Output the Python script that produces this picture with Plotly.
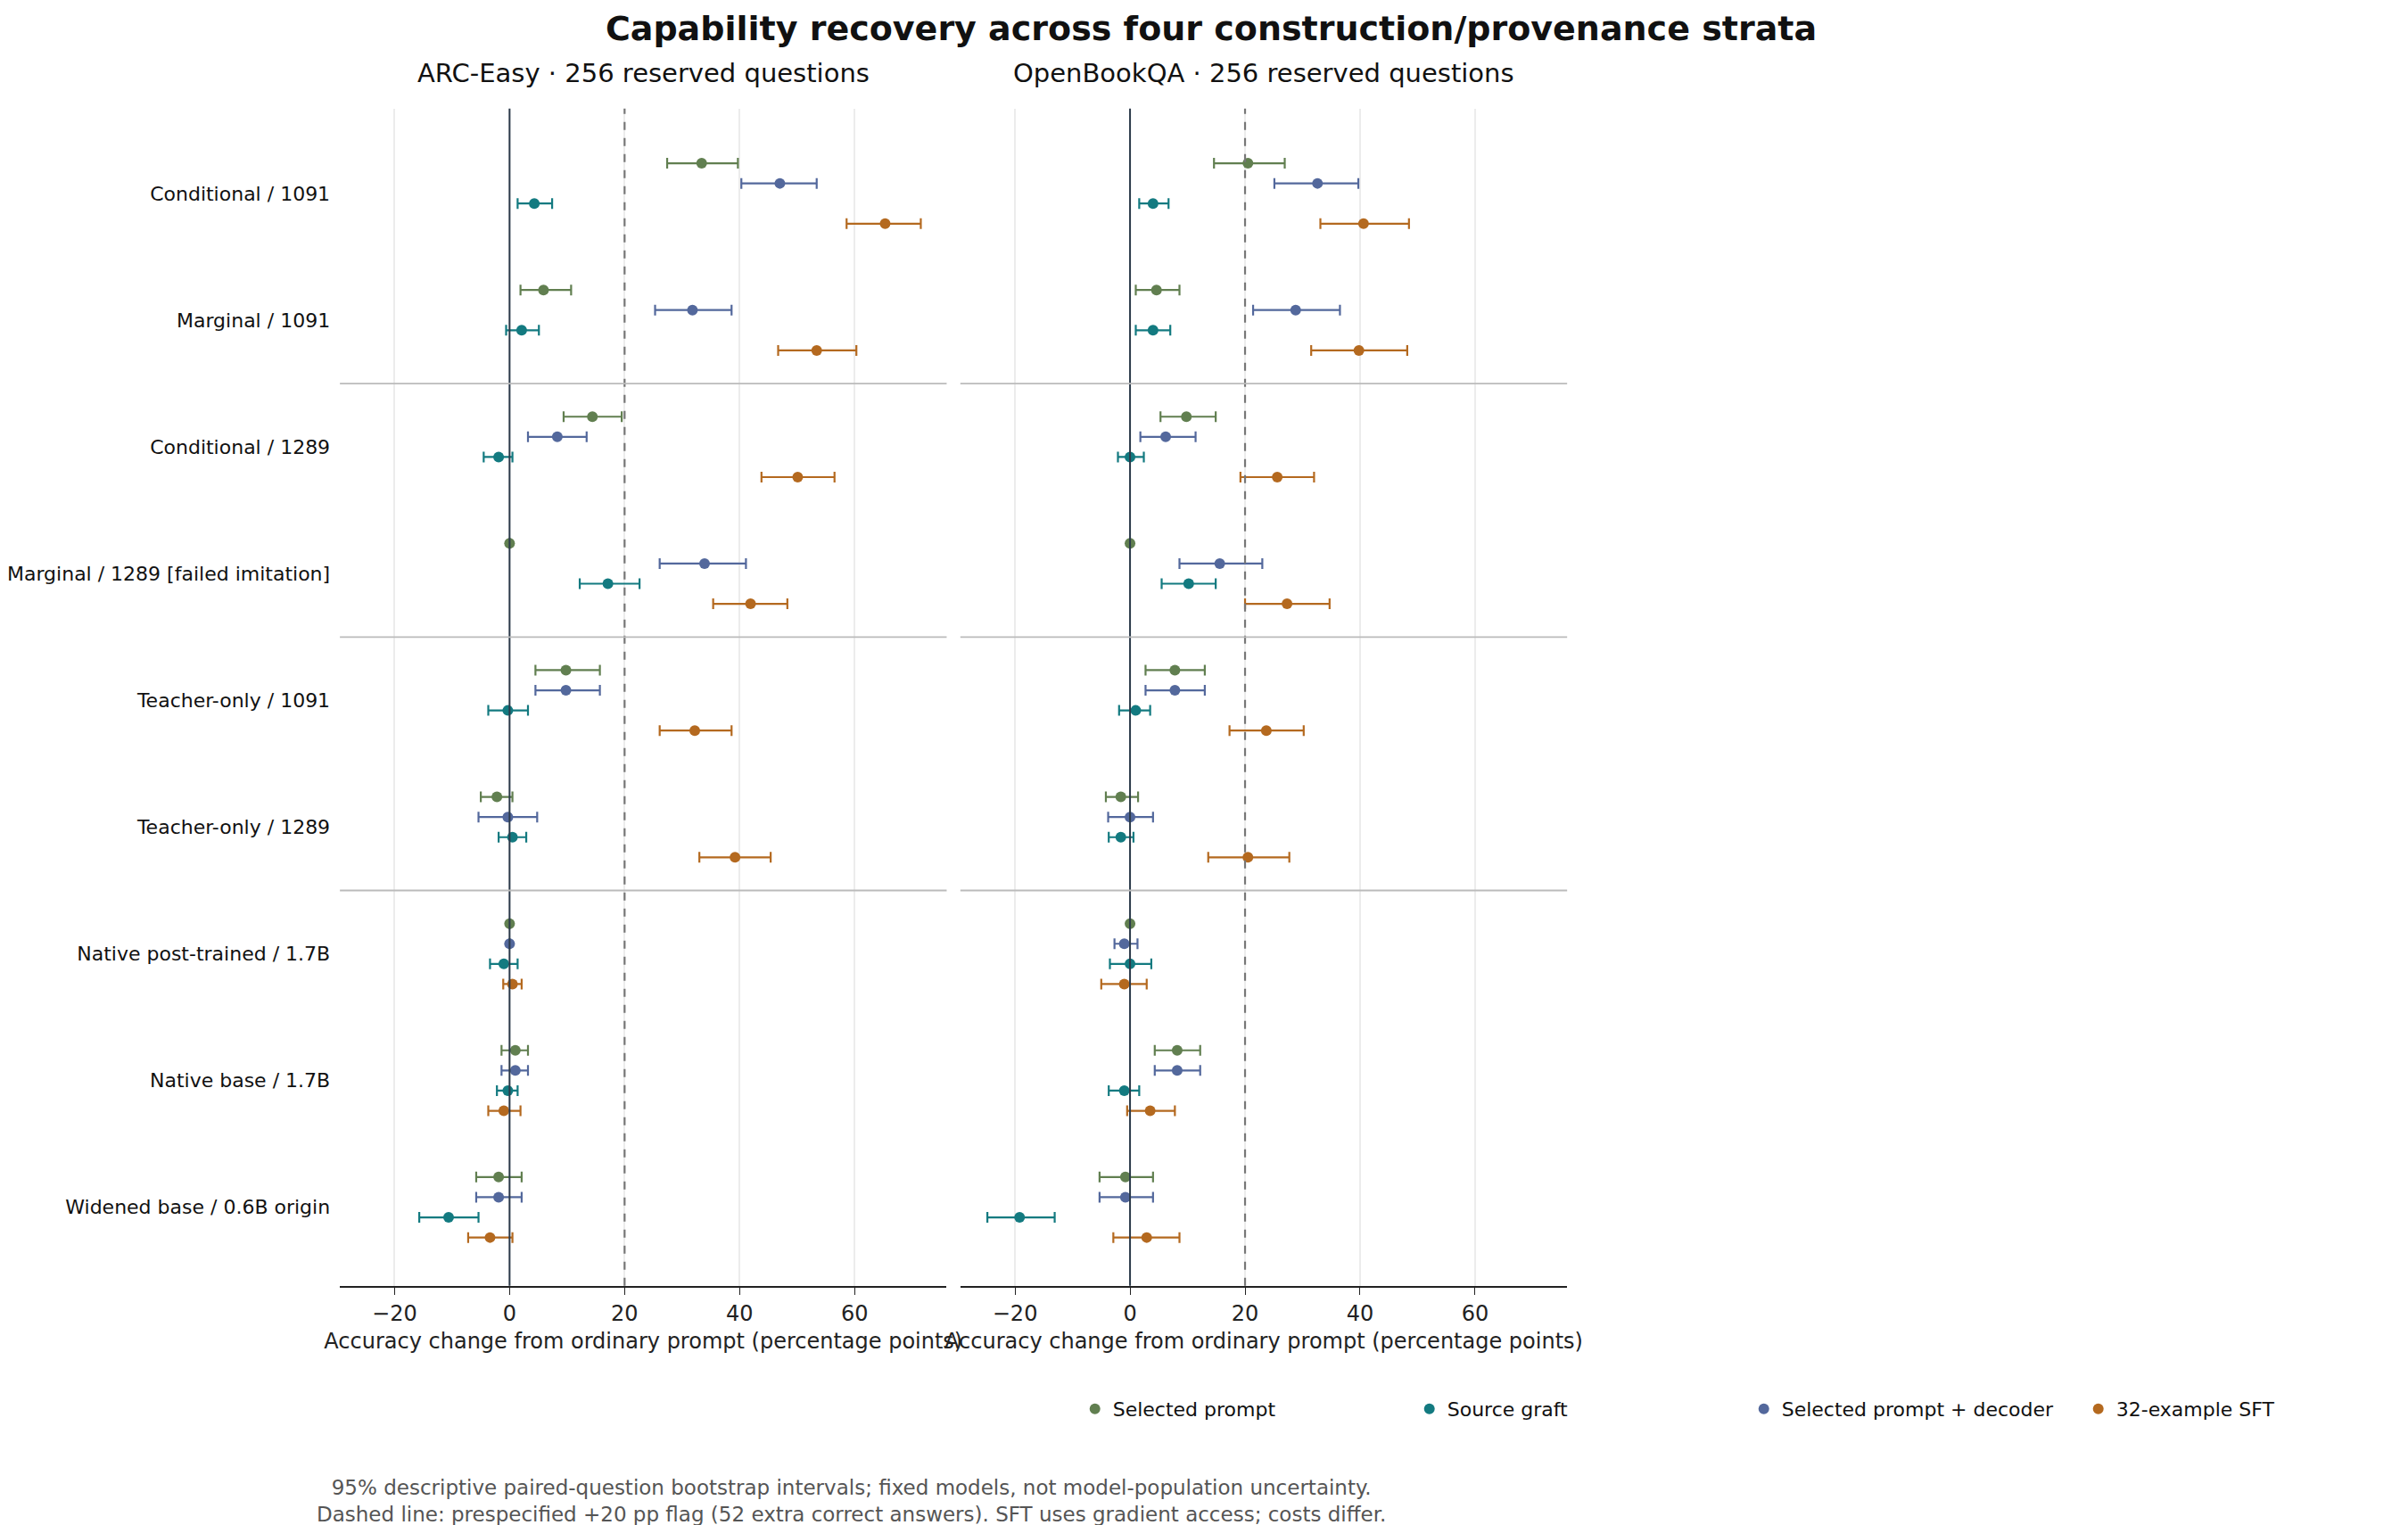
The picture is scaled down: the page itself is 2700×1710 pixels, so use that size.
import plotly.graph_objects as go

categories = ["Conditional / 1091", "Marginal / 1091", "Conditional / 1289",
              "Marginal / 1289 [failed imitation]", "Teacher-only / 1091", "Teacher-only / 1289",
              "Native post-trained / 1.7B", "Native base / 1.7B", "Widened base / 0.6B origin"]
series = ["Selected prompt", "Selected prompt + decoder", "Source graft", "32-example SFT"]
colors = ["#617f50", "#53689c", "#137a80", "#b4691f"]
legend_rank = [1, 3, 2, 4]

# ARC-Easy: [estimate, low, high] per category per series
arc_sel = [[33.4, 27.4, 39.7], [5.9, 1.9, 10.7], [14.4, 9.4, 19.5], [0, 0, 0], [9.8, 4.5, 15.7],
           [-2.2, -5.0, 0.5], [0, 0, 0], [1.0, -1.4, 3.2], [-1.9, -5.8, 2.1]]
arc_dec = [[47.0, 40.3, 53.4], [31.8, 25.3, 38.6], [8.3, 3.2, 13.4], [33.9, 26.1, 41.1], [9.8, 4.5, 15.7],
           [-0.3, -5.4, 4.8], [0, 0, 0], [1.0, -1.4, 3.2], [-1.9, -5.8, 2.1]]
arc_graft = [[4.3, 1.4, 7.4], [2.1, -0.6, 5.1], [-1.9, -4.5, 0.5], [17.1, 12.2, 22.6], [-0.3, -3.7, 3.2],
             [0.5, -1.9, 2.9], [-1.0, -3.4, 1.4], [-0.3, -2.2, 1.4], [-10.6, -15.7, -5.4]]
arc_sft = [[65.3, 58.6, 71.5], [53.4, 46.7, 60.3], [50.1, 43.8, 56.5], [41.9, 35.4, 48.3], [32.2, 26.1, 38.6],
           [39.2, 33.0, 45.4], [0.5, -1.1, 2.1], [-1.0, -3.7, 1.9], [-3.4, -7.2, 0.5]]
# OpenBookQA
obq_sel = [[20.5, 14.6, 26.9], [4.6, 1.0, 8.6], [9.8, 5.3, 14.9], [0, 0, 0], [7.8, 2.7, 13.0],
           [-1.6, -4.2, 1.4], [0, 0, 0], [8.2, 4.3, 12.2], [-0.8, -5.3, 4.0]]
obq_dec = [[32.6, 25.1, 39.7], [28.8, 21.4, 36.5], [6.2, 1.8, 11.4], [15.6, 8.6, 23.0], [7.8, 2.7, 13.0],
           [0, -3.8, 4.0], [-1.0, -2.7, 1.3], [8.2, 4.3, 12.2], [-0.8, -5.3, 4.0]]
obq_graft = [[4.0, 1.6, 6.7], [4.0, 1.0, 7.0], [0, -2.1, 2.4], [10.2, 5.5, 14.9], [1.0, -1.9, 3.5],
             [-1.6, -3.7, 0.6], [0, -3.5, 3.7], [-1.0, -3.7, 1.6], [-19.2, -24.8, -13.1]]
obq_sft = [[40.6, 33.1, 48.5], [39.8, 31.5, 48.2], [25.6, 19.2, 32.0], [27.3, 20.0, 34.7], [23.7, 17.3, 30.2],
           [20.5, 13.6, 27.7], [-1.0, -5.0, 2.9], [3.5, -0.5, 7.8], [2.9, -2.9, 8.6]]

panels = [("ARC-Easy · 256 reserved questions", [arc_sel, arc_dec, arc_graft, arc_sft]),
          ("OpenBookQA · 256 reserved questions", [obq_sel, obq_dec, obq_graft, obq_sft])]
xticks = [-20, 0, 20, 40, 60]
flag = 20

fig = go.Figure()
domains = [[0.1455, 0.5665], [0.576, 0.997]]
offs = [-0.2385, -0.0795, 0.0795, 0.2385]
for p, (title, data) in enumerate(panels):
    xa = "x" if p == 0 else "x2"
    ya = "y" if p == 0 else "y2"
    for s, vals in enumerate(data):
        fig.add_trace(go.Scatter(
            x=[v[0] for v in vals], y=[i + offs[s] for i in range(len(categories))],
            mode="markers", marker=dict(color=colors[s], size=12),
            error_x=dict(type="data", symmetric=False,
                         array=[v[2] - v[0] for v in vals], arrayminus=[v[0] - v[1] for v in vals],
                         color=colors[s], thickness=2.2, width=6),
            name=series[s], legendrank=legend_rank[s], showlegend=(p == 0),
            xaxis=xa, yaxis=ya))
    fig.add_shape(type="line", x0=0, x1=0, y0=0, y1=1, xref=xa, yref=ya + " domain",
                  line=dict(color="#2b3a4a", width=2))
    fig.add_shape(type="line", x0=flag, x1=flag, y0=0, y1=1, xref=xa, yref=ya + " domain",
                  line=dict(color="#777777", width=2.2, dash="dash"))
    for b in [1.5, 3.5, 5.5]:
        fig.add_shape(type="line", x0=0, x1=1, y0=b, y1=b, xref=xa + " domain", yref=ya,
                      line=dict(color="#bbbbbb", width=1.8))
    fig.add_annotation(text=title, x=sum(domains[p]) / 2, y=0.957, xref="paper", yref="paper",
                       xanchor="center", yanchor="middle",
                       showarrow=False, font=dict(size=29, color="#111"))

axis_x = dict(range=[-29.5, 76], tickvals=xticks, showgrid=True, gridcolor="#ececec", gridwidth=1.5,
              zeroline=False, showline=True, linecolor="#222", linewidth=2, ticks="outside",
              ticklen=8, tickcolor="#222", tickfont=dict(size=24, color="#222"),
              title=dict(text="Accuracy change from ordinary prompt (percentage points)",
                         font=dict(size=24, color="#222"), standoff=10))
yrng = [8.62, -0.67]
ydom = [0.1615, 0.9335]
fig.update_layout(
    width=2700, height=1710, paper_bgcolor="white", plot_bgcolor="white",
    margin=dict(l=0, r=0, t=0, b=0),
    font=dict(family="DejaVu Sans"),
    title=dict(text="<b>Capability recovery across four construction/provenance strata</b>",
               x=0.5, y=0.994, xanchor="center", yanchor="top", font=dict(size=38, color="#111")),
    xaxis=dict(domain=domains[0], anchor="y", **axis_x),
    xaxis2=dict(domain=domains[1], anchor="y2", **axis_x),
    yaxis=dict(domain=ydom, range=yrng, tickvals=list(range(len(categories))),
               ticktext=categories, showgrid=False, zeroline=False, ticks="",
               tickfont=dict(size=22, color="#111"), ticklabelstandoff=10),
    yaxis2=dict(domain=ydom, range=yrng, showticklabels=False, showgrid=False,
                zeroline=False, anchor="x2"),
    legend=dict(orientation="h", x=0.657, y=0.093, xanchor="left", yanchor="top",
                entrywidth=330, font=dict(size=22, color="#111"), tracegroupgap=0),
)
fig.add_annotation(
    text="95% descriptive paired-question bootstrap intervals; fixed models, not model-population uncertainty.<br>"
         "Dashed line: prespecified +20 pp flag (52 extra correct answers). SFT uses gradient access; costs differ.",
    x=0.5, y=0.003, xref="paper", yref="paper", xanchor="center", yanchor="bottom",
    showarrow=False, font=dict(size=23, color="#555"), align="center")
fig.write_html("out.html")
